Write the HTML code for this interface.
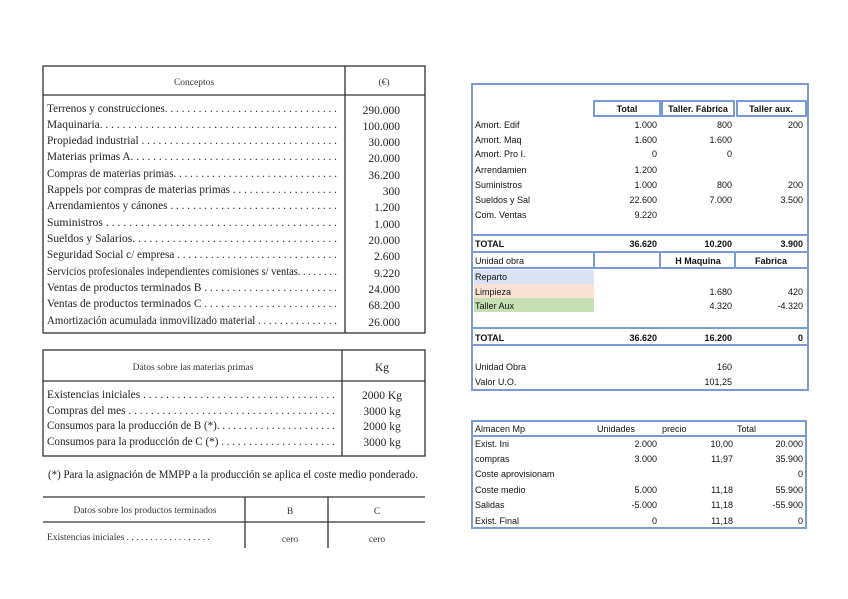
<!DOCTYPE html>
<html><head><meta charset="utf-8"><style>
html,body{margin:0;padding:0;background:#fff;width:848px;height:599px;overflow:hidden}
svg{display:block}
.s{font-family:"Liberation Serif",serif;font-size:11.5px;fill:#222}
.h{font-family:"Liberation Serif",serif;font-size:9.5px;fill:#333}
.a{font-family:"Liberation Sans",sans-serif;font-size:9px;fill:#111}
.b{font-family:"Liberation Sans",sans-serif;font-size:9px;fill:#111;font-weight:bold}
</style></head><body>
<svg width="848" height="599" viewBox="0 0 848 599">
<g stroke="#333" fill="none" stroke-width="1.3">
<rect x="43" y="66" width="382" height="267"/>
<line x1="345" y1="66" x2="345" y2="333"/>
<line x1="43" y1="95" x2="425" y2="95"/>
<rect x="43" y="350" width="382" height="106"/>
<line x1="342" y1="350" x2="342" y2="456"/>
<line x1="43" y1="381" x2="425" y2="381"/>
<line x1="43" y1="497" x2="425" y2="497"/>
<line x1="43" y1="522" x2="425" y2="522"/>
<line x1="245" y1="497" x2="245" y2="548"/>
<line x1="328" y1="497" x2="328" y2="548"/>
</g>
<text class="h" x="194" y="85" text-anchor="middle">Conceptos</text>
<text class="h" x="384" y="85" text-anchor="middle">(€)</text>
<g class="s">
<text x="47" y="112" textLength="290" lengthAdjust="spacingAndGlyphs">Terrenos y construcciones. . . . . . . . . . . . . . . . . . . . . . . . . . . . . . .</text>
<text x="47" y="128" textLength="290" lengthAdjust="spacingAndGlyphs">Maquinaria. . . . . . . . . . . . . . . . . . . . . . . . . . . . . . . . . . . . . . . . . .</text>
<text x="47" y="144" textLength="290" lengthAdjust="spacingAndGlyphs">Propiedad industrial . . . . . . . . . . . . . . . . . . . . . . . . . . . . . . . . . . .</text>
<text x="47" y="160" textLength="290" lengthAdjust="spacingAndGlyphs">Materias primas A. . . . . . . . . . . . . . . . . . . . . . . . . . . . . . . . . . . . .</text>
<text x="47" y="177" textLength="290" lengthAdjust="spacingAndGlyphs">Compras de materias primas. . . . . . . . . . . . . . . . . . . . . . . . . . . . . .</text>
<text x="47" y="193" textLength="290" lengthAdjust="spacingAndGlyphs">Rappels por compras de materias primas . . . . . . . . . . . . . . . . . . .</text>
<text x="47" y="209" textLength="290" lengthAdjust="spacingAndGlyphs">Arrendamientos y cánones . . . . . . . . . . . . . . . . . . . . . . . . . . . . . .</text>
<text x="47" y="226" textLength="290" lengthAdjust="spacingAndGlyphs">Suministros . . . . . . . . . . . . . . . . . . . . . . . . . . . . . . . . . . . . . . . .</text>
<text x="47" y="242" textLength="290" lengthAdjust="spacingAndGlyphs">Sueldos y Salarios. . . . . . . . . . . . . . . . . . . . . . . . . . . . . . . . . . . .</text>
<text x="47" y="258" textLength="290" lengthAdjust="spacingAndGlyphs">Seguridad Social c/ empresa . . . . . . . . . . . . . . . . . . . . . . . . . . . . .</text>
<text x="47" y="275" textLength="290" lengthAdjust="spacingAndGlyphs">Servicios profesionales independientes comisiones s/ ventas. . . . . . . .</text>
<text x="47" y="291" textLength="290" lengthAdjust="spacingAndGlyphs">Ventas de productos terminados B . . . . . . . . . . . . . . . . . . . . . . . .</text>
<text x="47" y="307" textLength="290" lengthAdjust="spacingAndGlyphs">Ventas de productos terminados C . . . . . . . . . . . . . . . . . . . . . . . .</text>
<text x="47" y="324" textLength="290" lengthAdjust="spacingAndGlyphs">Amortización acumulada inmovilizado material . . . . . . . . . . . . . . .</text>
</g>
<g class="s" text-anchor="end">
<text x="400" y="114">290.000</text><text x="400" y="130">100.000</text><text x="400" y="146">30.000</text>
<text x="400" y="162">20.000</text><text x="400" y="179">36.200</text><text x="400" y="195">300</text>
<text x="400" y="211">1.200</text><text x="400" y="228">1.000</text><text x="400" y="244">20.000</text>
<text x="400" y="260">2.600</text><text x="400" y="277">9.220</text><text x="400" y="293">24.000</text>
<text x="400" y="309">68.200</text><text x="400" y="326">26.000</text>
</g>
<text class="h" x="193" y="370" text-anchor="middle">Datos sobre las materias primas</text>
<text class="s" x="382" y="371" text-anchor="middle">Kg</text>
<g class="s">
<text x="47" y="398" textLength="288" lengthAdjust="spacingAndGlyphs">Existencias iniciales . . . . . . . . . . . . . . . . . . . . . . . . . . . . . . . . . .</text>
<text x="47" y="414" textLength="288" lengthAdjust="spacingAndGlyphs">Compras del mes . . . . . . . . . . . . . . . . . . . . . . . . . . . . . . . . . . . . .</text>
<text x="47" y="429" textLength="288" lengthAdjust="spacingAndGlyphs">Consumos para la producción de B (*). . . . . . . . . . . . . . . . . . . . . .</text>
<text x="47" y="445" textLength="288" lengthAdjust="spacingAndGlyphs">Consumos para la producción de C (*) . . . . . . . . . . . . . . . . . . . . .</text>
</g>
<g class="s" text-anchor="middle">
<text x="382" y="399">2000 Kg</text><text x="382" y="415">3000 kg</text><text x="382" y="430">2000 kg</text><text x="382" y="446">3000 kg</text>
</g>
<text class="s" x="48" y="478" textLength="370" lengthAdjust="spacingAndGlyphs">(*)  Para la asignación de MMPP a la producción se aplica el coste medio ponderado.</text>
<text class="h" x="145" y="513" text-anchor="middle">Datos sobre los productos terminados</text>
<text class="h" x="290" y="514" text-anchor="middle">B</text>
<text class="h" x="377" y="514" text-anchor="middle">C</text>
<text class="h" x="47" y="540">Existencias iniciales  . .  . . . . . . . . . . . . . . . .</text>
<text class="h" x="290" y="542" text-anchor="middle">cero</text>
<text class="h" x="377" y="542" text-anchor="middle">cero</text>

<g stroke="#7a9ad6" fill="none" stroke-width="2">
<rect x="472" y="84" width="336" height="306"/>
<rect x="594" y="101" width="66" height="15"/>
<rect x="662" y="101" width="72" height="15"/>
<rect x="737" y="101" width="69" height="15"/>
<line x1="472" y1="235" x2="808" y2="235"/>
<line x1="472" y1="252" x2="808" y2="252"/>
<line x1="472" y1="268" x2="808" y2="268"/>
<line x1="594" y1="252" x2="594" y2="268"/>
<line x1="660" y1="252" x2="660" y2="268"/>
<line x1="735" y1="252" x2="735" y2="268"/>
<line x1="472" y1="328" x2="808" y2="328"/>
<line x1="472" y1="345" x2="808" y2="345"/>
<rect x="472" y="421" width="334" height="107"/>
<line x1="472" y1="436" x2="806" y2="436"/>
</g>
<rect x="474" y="270" width="120" height="14" fill="#dae3f3"/>
<rect x="474" y="284" width="120" height="14" fill="#fbe2d5"/>
<rect x="474" y="298" width="120" height="14" fill="#c6e0b4"/>
<g class="b" text-anchor="middle">
<text x="627" y="112">Total</text><text x="698" y="112">Taller. Fábrica</text><text x="771" y="112">Taller aux.</text>
<text x="698" y="264">H Maquina</text><text x="771" y="264">Fabrica</text>
</g>
<g class="a">
<text x="475" y="128">Amort. Edif</text><text x="475" y="143">Amort. Maq</text><text x="475" y="157">Amort. Pro I.</text>
<text x="475" y="173">Arrendamien</text><text x="475" y="188">Suministros</text><text x="475" y="203">Sueldos y Sal</text>
<text x="475" y="218">Com. Ventas</text><text x="475" y="264">Unidad obra</text>
<text x="475" y="280">Reparto</text><text x="475" y="295">Limpieza</text><text x="475" y="309">Taller Aux</text>
<text x="475" y="370">Unidad Obra</text><text x="475" y="385">Valor U.O.</text>
</g>
<g class="a" text-anchor="end">
<text x="657" y="128">1.000</text><text x="732" y="128">800</text><text x="803" y="128">200</text>
<text x="657" y="143">1.600</text><text x="732" y="143">1.600</text>
<text x="657" y="157">0</text><text x="732" y="157">0</text>
<text x="657" y="173">1.200</text>
<text x="657" y="188">1.000</text><text x="732" y="188">800</text><text x="803" y="188">200</text>
<text x="657" y="203">22.600</text><text x="732" y="203">7.000</text><text x="803" y="203">3.500</text>
<text x="657" y="218">9.220</text>
<text x="732" y="295">1.680</text><text x="803" y="295">420</text>
<text x="732" y="309">4.320</text><text x="803" y="309">-4.320</text>
<text x="732" y="370">160</text><text x="732" y="385">101,25</text>
</g>
<g class="b"><text x="475" y="247">TOTAL</text><text x="475" y="341">TOTAL</text></g>
<g class="b" text-anchor="end">
<text x="657" y="247">36.620</text><text x="732" y="247">10.200</text><text x="803" y="247">3.900</text>
<text x="657" y="341">36.620</text><text x="732" y="341">16.200</text><text x="803" y="341">0</text>
</g>
<g class="a">
<text x="475" y="432">Almacen Mp</text><text x="597" y="432">Unidades</text><text x="662" y="432">precio</text><text x="737" y="432">Total</text>
<text x="475" y="447">Exist. Ini</text><text x="475" y="462">compras</text><text x="475" y="477">Coste aprovisionam</text>
<text x="475" y="493">Coste medio</text><text x="475" y="508">Salidas</text><text x="475" y="524">Exist. Final</text>
</g>
<g class="a" text-anchor="end">
<text x="657" y="447">2.000</text><text x="733" y="447">10,00</text><text x="803" y="447">20.000</text>
<text x="657" y="462">3.000</text><text x="733" y="462">11,97</text><text x="803" y="462">35.900</text>
<text x="803" y="477">0</text>
<text x="657" y="493">5.000</text><text x="733" y="493">11,18</text><text x="803" y="493">55.900</text>
<text x="657" y="508">-5.000</text><text x="733" y="508">11,18</text><text x="803" y="508">-55.900</text>
<text x="657" y="524">0</text><text x="733" y="524">11,18</text><text x="803" y="524">0</text>
</g>
</svg>
</body></html>
